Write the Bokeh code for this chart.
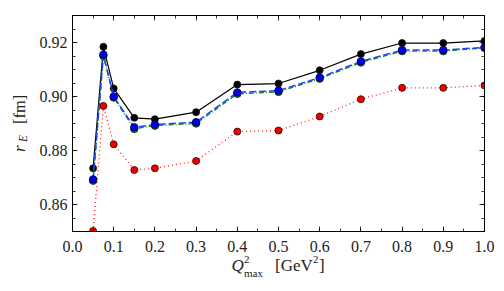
from bokeh.plotting import figure
from bokeh.models import FixedTicker, LinearAxis, PrintfTickFormatter, Div
from bokeh.layouts import row, column
from bokeh.embed import file_html
from bokeh.resources import INLINE

# ---- data ----
q2max = [0.05, 0.075, 0.1, 0.15, 0.2, 0.3, 0.4, 0.5, 0.6, 0.7, 0.8, 0.9, 1.0]
r_black = [0.8734, 0.9184, 0.9030, 0.8921, 0.8916, 0.8942, 0.9044, 0.9048, 0.9097, 0.9157, 0.9198, 0.9198, 0.9206]
r_green = [0.8688, 0.9150, 0.8996, 0.8880, 0.8892, 0.8900, 0.9010, 0.9017, 0.9066, 0.9126, 0.9168, 0.9168, 0.9180]
r_blue = [0.8693, 0.9155, 0.9000, 0.8886, 0.8896, 0.8905, 0.9015, 0.9022, 0.9070, 0.9130, 0.9172, 0.9172, 0.9182]
r_red = [0.8502, 0.8965, 0.8823, 0.8728, 0.8734, 0.8761, 0.8870, 0.8874, 0.8926, 0.8990, 0.9032, 0.9032, 0.9041]

x_ticks = [0.0, 0.1, 0.2, 0.3, 0.4, 0.5, 0.6, 0.7, 0.8, 0.9, 1.0]
x_minor = [round(0.05 * i, 2) for i in range(21)]
y_ticks = [0.86, 0.88, 0.90, 0.92]
y_minor = [round(0.85 + 0.005 * i, 3) for i in range(17)]

X0, X1 = 0.0, 1.0
Y0, Y1 = 0.85, 0.93

FONT = "Liberation Serif"
TXT = "#222222"

# layout geometry (page pixels)
WY = 36                 # width of the y-label strip
WF, HF = 504 - WY, 259  # figure size
HX = 291 - HF           # x-label strip height
ML, MR, MT, MB = 36, 20, 15, 28

p = figure(width=WF, height=HF, x_range=(X0, X1), y_range=(Y0, Y1),
           output_backend="svg", toolbar_location=None,
           min_border_left=ML, min_border_right=MR, min_border_top=MT, min_border_bottom=MB)
p.grid.visible = False
p.outline_line_color = "black"
p.outline_line_width = 1
p.background_fill_color = "white"
p.border_fill_color = "white"

def style_axis(ax, ticks, minor, fmt, show_labels):
    ax.ticker = FixedTicker(ticks=ticks, minor_ticks=minor)
    ax.formatter = PrintfTickFormatter(format=fmt)
    ax.major_tick_in = 5
    ax.major_tick_out = 0
    ax.minor_tick_in = 3
    ax.minor_tick_out = 0
    ax.axis_line_color = "black"
    ax.major_tick_line_color = "black"
    ax.minor_tick_line_color = "black"
    ax.major_tick_line_width = 0.8
    ax.minor_tick_line_width = 0.8
    if show_labels:
        ax.major_label_text_font = FONT
        ax.major_label_text_font_size = "16px"
        ax.major_label_text_color = TXT
    else:
        ax.major_label_overrides = {t: "" for t in ticks}
        ax.major_label_standoff = 0
        ax.major_label_text_font_size = "1px"

style_axis(p.xaxis[0], x_ticks, x_minor, "%.1f", True)
p.xaxis[0].major_label_standoff = 9
style_axis(p.yaxis[0], y_ticks, y_minor, "%.2f", True)
p.yaxis[0].major_label_standoff = 5

top = LinearAxis()
style_axis(top, x_ticks, x_minor, "%.1f", False)
p.add_layout(top, "above")
right = LinearAxis()
style_axis(right, y_ticks, y_minor, "%.2f", False)
p.add_layout(right, "right")

# series
p.line(q2max, r_black, line_color="black", line_width=1.2)
p.scatter(q2max, r_black, size=7, fill_color="black", line_color="#111111", line_width=0.8)

p.line(q2max, r_red, line_color="#ff2020", line_width=1.3, line_dash="1 3")
p.scatter(q2max, r_red, size=7, fill_color="#ee0000", line_color="#330000", line_width=0.8)

p.line(q2max, r_green, line_color="#118811", line_width=1.3, line_dash="5 2 1 2")
p.scatter(q2max, r_green, size=7.5, fill_color="#117711", line_color="#113311", line_width=0.8)

p.line(q2max, r_blue, line_color="#2040ff", line_width=1.5, line_dash="7 3")
p.scatter(q2max, r_blue, size=7.5, fill_color="#0000ee", line_color="#000033", line_width=0.8)

# ---- axis labels as HTML text strips ----
def span(text, left, base, size, italic=False, rotate=False):
    # place text so that its baseline sits at `base` (px); line-height = size
    off = (size - 1.107 * size) / 2 + 0.891 * size
    st = "position:absolute;white-space:nowrap;line-height:%.2fpx;font-size:%.2fpx;" % (size, size)
    if italic:
        st += "font-style:italic;"
    if rotate:
        # text runs upward starting at y=left; baseline at x=base
        st += "left:%.2fpx;top:%.2fpx;transform-origin:0 0;transform:rotate(-90deg);" % (base - off, left)
    else:
        st += "left:%.2fpx;top:%.2fpx;" % (left, base - off)
    return '<span style="%s">%s</span>' % (st, text)

box = ('<div style="position:relative;overflow:visible;width:%dpx;height:%dpx;'
       'font-family:\'Liberation Serif\',serif;color:%s;">%s</div>')

# x label strip starts at page (WY, HF)
ox, oy = WY, HF
xl = "".join([
    span("Q", 231.5 - ox, 271 - oy, 17, italic=True),
    span("2", 244 - ox, 263.5 - oy, 11),
    span("max", 244 - ox, 277 - oy, 11),
    span("[GeV", 275 - ox, 271 - oy, 17),
    span("2", 313 - ox, 263.5 - oy, 11),
    span("]", 319 - ox, 271 - oy, 17),
])
xdiv = Div(text=box % (WF, HX, TXT, xl), width=WF, height=HX, margin=0,
           styles={"overflow": "visible"})

yl = "".join([
    span("r", 152, 25.5, 17, italic=True, rotate=True),
    span("E", 142, 28, 11.5, italic=True, rotate=True),
    span("[fm]", 123.5, 25.5, 16.5, rotate=True),
])
ydiv = Div(text=box % (WY, 291, TXT, yl), width=WY, height=291, margin=0,
           styles={"overflow": "visible"})

layout = row(ydiv, column(p, xdiv, spacing=0), spacing=0)
open("out.html", "w").write(file_html(layout, INLINE))
